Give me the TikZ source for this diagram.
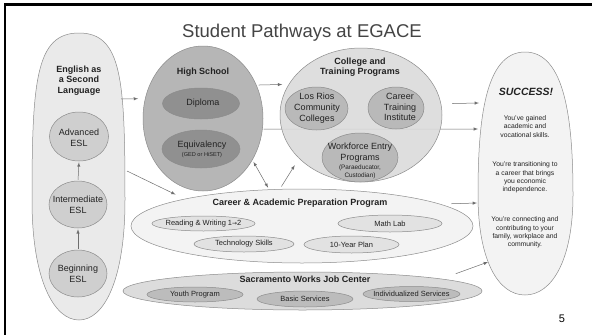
\documentclass[tikz,border=0pt]{standalone}
\usepackage{fontspec}
\setmainfont{Liberation Sans}
\newfontfamily\arrowfont{DejaVu Sans}
\usetikzlibrary{shapes, calc, arrows, positioning}

\definecolor{txtgray}{HTML}{222222}
\definecolor{titlegray}{HTML}{444444}
\definecolor{rimgray}{HTML}{8C8C8C}
\definecolor{arrowgray}{HTML}{6E6E6E}
\definecolor{eslfill}{HTML}{EAEAEA}
\definecolor{eslsub}{HTML}{CFCFCF}
\definecolor{hsfill}{HTML}{B6B6B6}
\definecolor{hssub}{HTML}{909090}
\definecolor{colfill}{HTML}{DADADA}
\definecolor{colsub}{HTML}{B9B9B9}
\definecolor{cappfill}{HTML}{F3F3F3}
\definecolor{cappsub}{HTML}{E2E2E2}
\definecolor{jobfill}{HTML}{DCDCDC}
\definecolor{jobsub}{HTML}{BCBCBC}
\definecolor{succfill}{HTML}{F3F3F3}

\tikzset{
  blob/.style={ellipse, draw=rimgray, line width=0.5pt, inner sep=0pt},
  head/.style={font=\fontsize{9}{10.5}\selectfont\bfseries, text=txtgray, align=center, inner sep=0pt},
  body/.style={font=\fontsize{9}{10.7}\selectfont, text=txtgray, align=center, inner sep=0pt},
  small/.style={font=\fontsize{7.5}{9}\selectfont, text=txtgray, align=center, inner sep=0pt},
  tiny/.style={font=\fontsize{6.8}{8.4}\selectfont, text=txtgray, align=center, inner sep=0pt},
  wee/.style={font=\fontsize{5.6}{7.6}\selectfont, text=txtgray, align=center, inner sep=0pt},
  link/.style={->, draw=arrowgray, line width=0.5pt},
}

\begin{document}
\begin{tikzpicture}[>=latex, x=1pt, y=-1pt]
    \useasboundingbox (0,0) rectangle (592,335);
    \fill[white] (0,0) rectangle (592,335);
    \draw[line width=2.3pt] (592,4.5) -- (5.3,4.5) -- (5.3,335);

    \node[font=\fontsize{18.5}{20}\selectfont, text=titlegray, anchor=base, inner sep=0pt] (title) at (302,37) {Student Pathways at EGACE};

    % English as a Second Language
    \draw[draw=rimgray, fill=eslfill, line width=0.5pt] (79,33) .. controls (122,33) and (125,80) .. (125,200)
      .. controls (125,280) and (104,320) .. (79,320) .. controls (54,320) and (32,280) .. (32,200)
      .. controls (32,80) and (36,33) .. (79,33);
    \coordinate (esl-out1) at (121,99);
    \coordinate (esl-out2) at (127,171);
    \node[head] (esl-t) at (79,80.5) {English as\\a Second\\Language};
    \node[blob, fill=eslsub, minimum width=59, minimum height=49] (adv) at (79,136.5) {};
    \node[body] (adv-t) at (79,137.5) {Advanced\\ESL};
    \node[blob, fill=eslsub, minimum width=58, minimum height=47] (inter) at (78,204.5) {};
    \node[body] (inter-t) at (78,204.5) {Intermediate\\ESL};
    \node[blob, fill=eslsub, minimum width=58, minimum height=47] (begin) at (78,273.5) {};
    \node[body] (begin-t) at (78,274) {Beginning\\ESL};
    \draw[link, shorten <=1pt, shorten >=1pt] (begin.north) -- (inter.south);
    \draw[link, shorten <=1pt, shorten >=1pt] (inter.north) -- (adv.south);

    % Success
    \draw[draw=rimgray, fill=succfill, line width=0.5pt] (525,52) .. controls (565,52) and (573,120) .. (573,195)
      .. controls (573,260) and (552,295) .. (525,295) .. controls (498,295) and (478,260) .. (478,195)
      .. controls (478,120) and (485,52) .. (525,52);
    \coordinate (succ-in1) at (479,103);
    \coordinate (succ-in2) at (478,129);
    \coordinate (succ-in3) at (477,203);
    \coordinate (succ-in4) at (488,262);
    \node[font=\fontsize{10.5}{12}\selectfont\bfseries\itshape, text=txtgray, inner sep=0pt] (succ-t) at (526,92) {SUCCESS!};
    \node[tiny] (succ-a) at (525,126.5) {You've gained\\academic and\\vocational skills.};
    \node[tiny] (succ-b) at (525,177.5) {You're transitioning to\\a career that brings\\you economic\\independence.};
    \node[tiny] (succ-c) at (525,232.5) {You're connecting and\\contributing to your\\family, workplace and\\community.};

    % High School
    \node[blob, fill=hsfill, minimum width=120, minimum height=145] (hs) at (203,118.5) {};
    \node[head] (hs-t) at (203,72) {High School};
    \node[blob, fill=hssub, minimum width=77, minimum height=31] (dipl) at (201,103.5) {};
    \node[body] (dipl-t) at (203,103.5) {Diploma};
    \node[blob, fill=hssub, minimum width=78, minimum height=38] (equiv) at (201,149) {};
    \node[body] (equiv-t) at (202,145) {Equivalency};
    \node[wee] (equiv-s) at (202,155) {(GED or HiSET)};

    \draw[link, shorten <=1pt] (hs.-10) -- (succ-in2);

    % College and Training Programs
    \node[blob, fill=colfill, fill opacity=0.88, minimum width=162, minimum height=134] (coll) at (361,115) {};
    \node[head, text depth=0pt] (coll-t) at (360,66) {College and\\Training Programs};
    \node[blob, fill=colsub, minimum width=63, minimum height=43] (losrios) at (316.5,108.5) {};
    \node[body] (losrios-t) at (317,108) {Los Rios\\Community\\Colleges};
    \node[blob, fill=colsub, minimum width=56, minimum height=42] (cti) at (396,108) {};
    \node[body] (cti-t) at (400,107) {Career\\Training\\Institute};
    \node[blob, fill=colsub, minimum width=76, minimum height=49] (wf) at (360,157.5) {};
    \node[body] (wf-t) at (360,152.5) {Workforce Entry\\Programs};
    \node[font=\fontsize{6.4}{7.8}\selectfont, text=txtgray, align=center, inner sep=0pt] (wf-s) at (360,172) {(Paraeducator,\\Custodian)};

    % Career & Academic Preparation Program
    \node[blob, fill=cappfill, minimum width=342, minimum height=74] (capp) at (302,226) {};
    \node[head] (capp-t) at (300,203) {Career \& Academic Preparation Program};
    \node[blob, fill=cappsub, minimum width=103, minimum height=15] (rw) at (203.5,223.5) {};
    \node[small] (rw-t) at (203.5,223.5) {Reading \& Writing 1{\arrowfont\fontsize{6}{6}\selectfont →}2};
    \node[blob, fill=cappsub, minimum width=104, minimum height=17] (math) at (390,223.5) {};
    \node[small] (math-t) at (390,223.5) {Math Lab};
    \node[blob, fill=cappsub, minimum width=100, minimum height=16] (tech) at (244,244) {};
    \node[small] (tech-t) at (244,244) {Technology Skills};
    \node[blob, fill=cappsub, minimum width=95, minimum height=17] (plan) at (351.5,244.5) {};
    \node[small] (plan-t) at (351.5,244.5) {10-Year Plan};

    % Sacramento Works Job Center
    \node[blob, fill=jobfill, minimum width=359, minimum height=38] (swjc) at (302.5,291) {};
    \node[head] (swjc-t) at (305,279) {Sacramento Works Job Center};
    \node[blob, fill=jobsub, minimum width=96, minimum height=15] (youth) at (195,294.5) {};
    \node[small] (youth-t) at (195,294.5) {Youth Program};
    \node[blob, fill=jobsub, minimum width=96, minimum height=16] (basic) at (305,299) {};
    \node[small] (basic-t) at (305,299) {Basic Services};
    \node[blob, fill=jobsub, minimum width=97, minimum height=15] (indiv) at (411.5,294) {};
    \node[small] (indiv-t) at (411.5,294) {Individualized Services};

    % connectors
    \draw[link, shorten >=7pt] (esl-out1) -- (hs.161);
    \draw[link, shorten <=2pt, shorten >=6.5pt] (hs.32) -- (coll.157.5);
    \draw[link, shorten <=11pt] (coll.8.6) -- (succ-in1);
    \draw[link, shorten >=10pt] (esl-out2) -- (capp.167);
    \draw[link, shorten <=11pt] (capp.9.75) -- (succ-in3);
    \draw[link, shorten <=15pt] (swjc.5.3) -- (succ-in4);
    \draw[link, <->, shorten <=2pt, shorten >=2pt] (hs.-40) -- (capp.132.6);
    \draw[link, shorten <=3pt, shorten >=8pt] (capp.121) -- (coll.215.5);

    \node[font=\fontsize{11}{12}\selectfont, inner sep=0pt] (pagenum) at (562,319) {5};
\end{tikzpicture}
\end{document}
